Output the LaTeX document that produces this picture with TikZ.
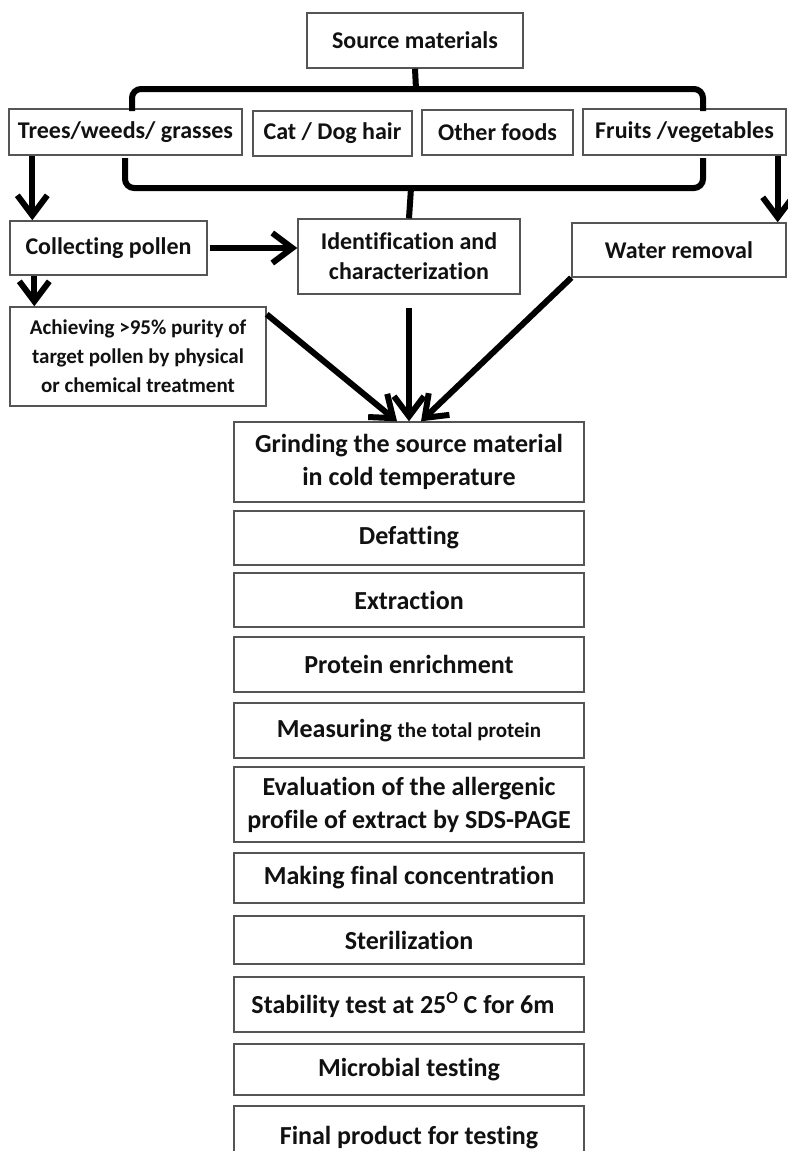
\documentclass[tikz,border=0pt]{standalone}
\usepackage{fontspec}
\setmainfont{Carlito}[Ligatures={NoCommon,NoContextual}, RawFeature={-liga;-clig}]
\usetikzlibrary{arrows.meta}
\definecolor{boxgray}{HTML}{555555}
\definecolor{txt}{HTML}{111111}
\begin{document}
\begin{tikzpicture}[x=1pt,y=-1pt,
  box/.style={draw=boxgray, line width=1.4pt, fill=white, align=center, inner sep=0pt, text=txt,
    font=\bfseries\fontsize{24}{30}\selectfont},
  bigbox/.style={box, font=\bfseries\fontsize{26}{33}\selectfont},
  smallbox/.style={box, font=\bfseries\fontsize{21}{29}\selectfont},
  arr/.style={line width=6pt, -{Straight Barb[length=20pt,width=30pt]}},
  brace/.style={line width=6pt, rounded corners=9pt}]
\useasboundingbox (0,0) rectangle (787,1151);
\fill[white] (0,0) rectangle (787,1151);

% top
\node[box, minimum width=216pt, minimum height=55pt] (src) at (415,40.5) {Source materials};
\node[box, minimum width=233pt, minimum height=46pt] (trees) at (125.5,132) {Trees/weeds/ grasses};
\node[box, minimum width=159pt, minimum height=45pt] (cat) at (332.5,133.5) {Cat / Dog hair};
\node[box, minimum width=151pt, minimum height=45pt] (other) at (497.5,132.5) {Other foods};
\node[box, minimum width=203pt, minimum height=46pt] (fruits) at (684.5,132) {Fruits /vegetables};

% braces
\coordinate (tbl) at (132,111);
\coordinate (tbm) at (416,89);
\coordinate (tbr) at (703,111);
\draw[brace] (tbl) |- (tbm) -| (tbr);
\draw[line width=6pt] (src.south) -- (tbm);

\coordinate (bbl) at (125,158);
\coordinate (bbm) at (411,188);
\coordinate (bbr) at (703,158);
\draw[brace] (bbl) |- (bbm) -| (bbr);

% second row
\node[box, minimum width=197pt, minimum height=54pt] (collect) at (108.5,248) {Collecting pollen};
\node[box, minimum width=222pt, minimum height=75pt] (ident) at (409,256.5) {Identification and\\characterization};
\node[box, minimum width=214pt, minimum height=54pt] (water) at (679,250) {Water removal};
\draw[line width=6pt] (bbm) -- (ident.north);

\node[smallbox, minimum width=256pt, minimum height=99pt] (achieve) at (138,356.5)
  {Achieving >95\% purity of\\target pollen by physical\\or chemical treatment};

% lower column
\node[bigbox, minimum width=350pt, minimum height=80pt] (grind) at (409,462) {Grinding the source material\\in cold temperature};
\node[bigbox, minimum width=350pt, minimum height=54pt] (defat) at (409,538) {Defatting};
\node[bigbox, minimum width=350pt, minimum height=54pt] (extract) at (409,600) {Extraction};
\node[bigbox, minimum width=350pt, minimum height=55pt] (protein) at (409,664.5) {Protein enrichment};
\node[bigbox, minimum width=350pt, minimum height=55pt] (measure) at (409,730.5)
  {Measuring {\fontsize{21}{25}\selectfont the total protein}};
\node[bigbox, minimum width=350pt, minimum height=75pt] (eval) at (409,804.5)
  {Evaluation of the allergenic\\profile of extract by SDS-PAGE};
\node[bigbox, minimum width=350pt, minimum height=50pt] (making) at (409,878) {Making final concentration};
\node[bigbox, minimum width=350pt, minimum height=48pt] (steril) at (409,940) {Sterilization};
\node[bigbox, minimum width=350pt, minimum height=55pt] (stab) at (409,1004.5)
  {Stability test at 25\raisebox{10pt}{\fontsize{17}{17}\selectfont O} C for 6m\hspace{12pt}};
\node[bigbox, minimum width=350pt, minimum height=51pt] (micro) at (409,1069.5) {Microbial testing};
\node[bigbox, minimum width=350pt, minimum height=64pt] (final) at (409,1138) {Final product for testing};

% arrows
\draw[arr] ([xshift=24pt]trees.south west) -- ([xshift=23pt]collect.north west);
\draw[arr] ([xshift=-9pt]fruits.south east) -- ([xshift=-9pt]water.north east);
\draw[arr] ([xshift=2pt]collect.east) -- (collect.east -| ident.west);
\draw[arr] ([xshift=25pt]collect.south west) -- ([xshift=25pt]achieve.north west);
\draw[arr] ([yshift=-8pt]achieve.north east) -- ([xshift=-12pt]grind.north);
\draw[arr] ([yshift=-13pt]ident.south) -- (grind.north);
\draw[arr] (water.south west) -- ([xshift=12pt]grind.north);
\end{tikzpicture}
\end{document}
